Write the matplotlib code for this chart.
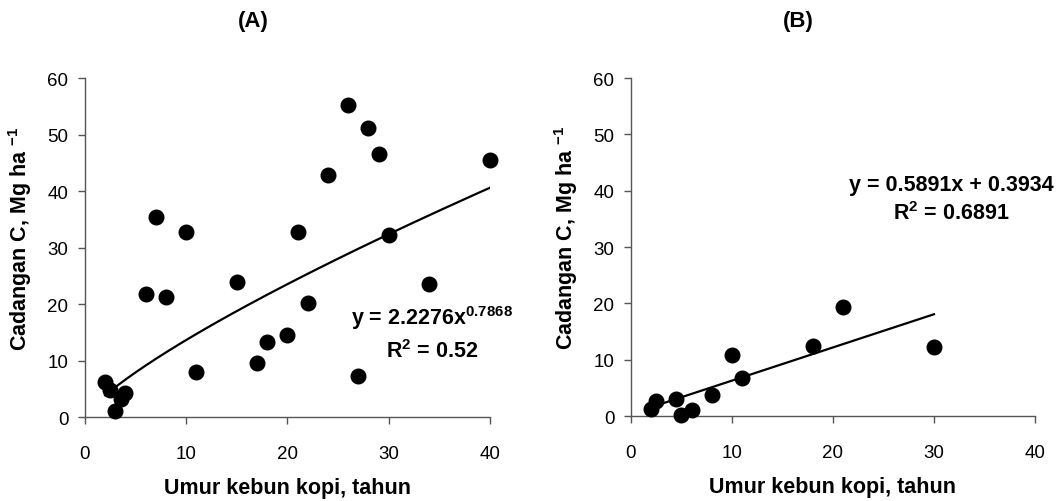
import numpy as np
import matplotlib
matplotlib.use("Agg")
import matplotlib.pyplot as plt

plt.rcParams['font.family'] = ['Liberation Sans', 'DejaVu Sans']
plt.rcParams['mathtext.fontset'] = 'custom'
plt.rcParams['mathtext.rm'] = 'Liberation Sans'
plt.rcParams['mathtext.bf'] = 'Liberation Sans:bold'

# Panel A data: umur kebun (tahun) vs cadangan C
umur_a = [2, 2.5, 3, 3.6, 4, 6, 7, 8, 10, 11, 15, 17, 18, 20, 21, 22,
          24, 26, 27, 28, 29, 30, 34, 40]
karbon_a = [6.2, 4.8, 1.1, 3.2, 4.2, 21.8, 35.4, 21.3, 32.7, 8.0, 23.9, 9.5,
            13.3, 14.5, 32.7, 20.1, 42.8, 55.3, 7.2, 51.2, 46.5, 32.2, 23.6, 45.5]

# Panel B data
umur_b = [2, 2.5, 4.5, 5, 6, 8, 10, 11, 18, 21, 30]
karbon_b = [1.3, 2.6, 3.0, 0.2, 1.0, 3.8, 10.8, 6.8, 12.4, 19.4, 12.3]

# trend lines (Excel fits)
coef_a, exp_a = 2.2276, 0.7868
slope_b, icpt_b = 0.5891, 0.3934

fig = plt.figure(figsize=(10.61, 5.02), dpi=100)
ax_a = fig.add_axes([0.0801, 0.1673, 0.3817, 0.6753])
ax_b = fig.add_axes([0.5947, 0.1693, 0.3808, 0.6733])

axis_col = '#555555'
for ax in (ax_a, ax_b):
    ax.set_xlim(0, 40)
    ax.set_ylim(0, 60)
    ax.set_xticks([0, 10, 20, 30, 40])
    ax.set_yticks([0, 10, 20, 30, 40, 50, 60])
    for s in ('top', 'right'):
        ax.spines[s].set_visible(False)
    for s in ('left', 'bottom'):
        ax.spines[s].set_color(axis_col)
        ax.spines[s].set_linewidth(1.0)
    ax.tick_params(axis='y', direction='out', length=5, width=1, color=axis_col,
                   labelsize=13.5, pad=7)
    ax.tick_params(axis='x', direction='out', length=5, width=1, color=axis_col,
                   labelsize=13.5, pad=15)
    ax.set_xlabel('Umur kebun kopi, tahun', fontsize=15.5, fontweight='bold', labelpad=11)
    ax.set_ylabel(r'Cadangan C, Mg ha $^{\mathbf{-1}}$', fontsize=15.5, fontweight='bold')
    ax.yaxis.set_label_coords(-0.127, 0.53)

# Panel A
xa = np.linspace(min(umur_a), max(umur_a), 200)
ax_a.plot(xa, coef_a * xa ** exp_a, color='black', lw=1.6, zorder=2)
ax_a.plot(umur_a, karbon_a, 'o', color='black', ms=10.5, zorder=3, clip_on=False)
ax_a.text(34.3, 17.7, r'y = 2.2276x$^{\mathbf{0.7868}}$', ha='center', va='center',
          fontsize=15.5, fontweight='bold')
ax_a.text(34.3, 11.7, r'R$^{\mathbf{2}}$ = 0.52', ha='center', va='center',
          fontsize=15.5, fontweight='bold')

# Panel B
xb = np.array([min(umur_b), max(umur_b)])
ax_b.plot(xb, slope_b * xb + icpt_b, color='black', lw=1.6, zorder=2)
ax_b.plot(umur_b, karbon_b, 'o', color='black', ms=10.5, zorder=3, clip_on=False)
ax_b.text(31.7, 41.1, 'y = 0.5891x + 0.3934', ha='center', va='center',
          fontsize=15.5, fontweight='bold')
ax_b.text(31.7, 36.2, r'R$^{\mathbf{2}}$ = 0.6891', ha='center', va='center',
          fontsize=15.5, fontweight='bold')

fig.text(253 / 1061, 1 - 21 / 502, '(A)', ha='center', va='center', fontsize=16,
         fontweight='bold')
fig.text(798 / 1061, 1 - 21 / 502, '(B)', ha='center', va='center', fontsize=16,
         fontweight='bold')

fig.savefig('out.png', dpi=100)
